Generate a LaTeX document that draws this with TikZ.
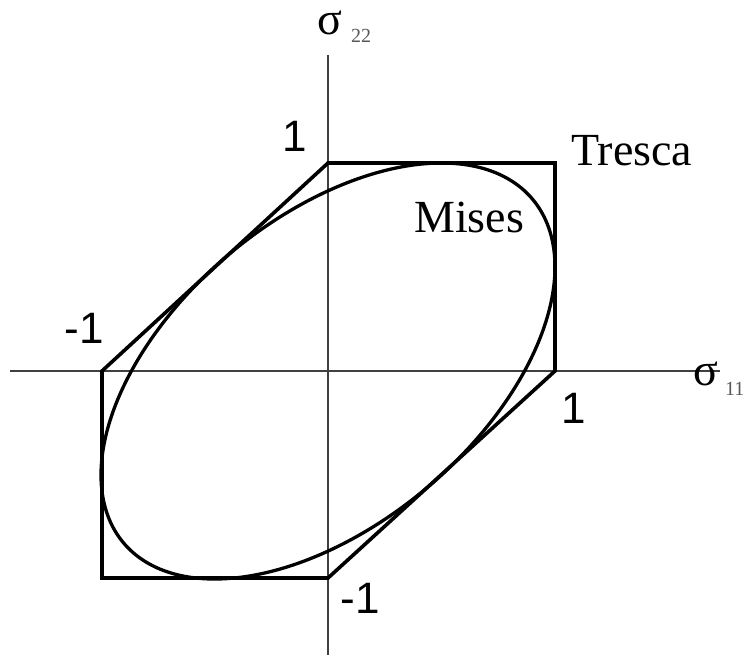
\documentclass[tikz,border=0pt]{standalone}
\usepackage{fontspec}
\setmainfont{Liberation Serif}
\newfontfamily\arialf{Liberation Sans}
\tikzset{
  axisline/.style={line width=2pt, draw=black!75},
  trescaline/.style={line width=3.6pt, line join=miter},
  misesline/.style={line width=3.3pt},
  ticklabel/.style={inner sep=0pt, font=\arialf\fontsize{44}{44}\selectfont},
  namelabel/.style={inner sep=0pt, font=\fontsize{46}{46}\selectfont},
  sigmalabel/.style={inner sep=0pt, font=\fontsize{46}{46}\selectfont},
  sublabel/.style={inner sep=0pt, text=black!65, font=\fontsize{20}{20}\selectfont},
}
\begin{document}
\begin{tikzpicture}[x=1pt,y=-1pt]
\useasboundingbox (0,0) rectangle (746,663);
% axes
\coordinate (xl) at (10,371);
\coordinate (xr) at (720,371);
\coordinate (yt) at (328,55);
\coordinate (yb) at (328,655);
\draw[axisline] (xl) -- (xr);
\draw[axisline] (yt) -- (yb);
% Tresca hexagon
\coordinate (A) at (328,163);
\coordinate (B) at (555,163);
\coordinate (C) at (555,371);
\coordinate (D) at (328,578);
\coordinate (E) at (102,578);
\coordinate (F) at (102,371);
\draw[trescaline] (A) -- (B) -- (C) -- (D) -- (E) -- (F) -- cycle;
% Mises ellipse
\draw[misesline] plot[domain=0:360, samples=240, smooth cycle]
  ({328+227*cos(\x-30)}, {371-208*cos(\x+30)});
% labels
\node[ticklabel, anchor=base] (t1) at (295,152) {1};
\node[ticklabel, anchor=base] (tm1) at (84,343) {-1};
\node[ticklabel, anchor=base] (r1) at (574,423) {1};
\node[ticklabel, anchor=base] (bm1) at (360,613) {-1};
\node[namelabel, anchor=base west] (tresca) at (571,165) {Tresca};
\node[namelabel, anchor=base west] (mises) at (414,232) {Mises};
\node[sigmalabel, anchor=base west] (s22) at (317,35) {σ};
\node[sublabel, anchor=base west] (s22i) at (351,43) {22};
\node[sigmalabel, anchor=base west] (s11) at (693,385) {σ};
\node[sublabel, anchor=base west] (s11i) at (725,395) {11};
\end{tikzpicture}
\end{document}
